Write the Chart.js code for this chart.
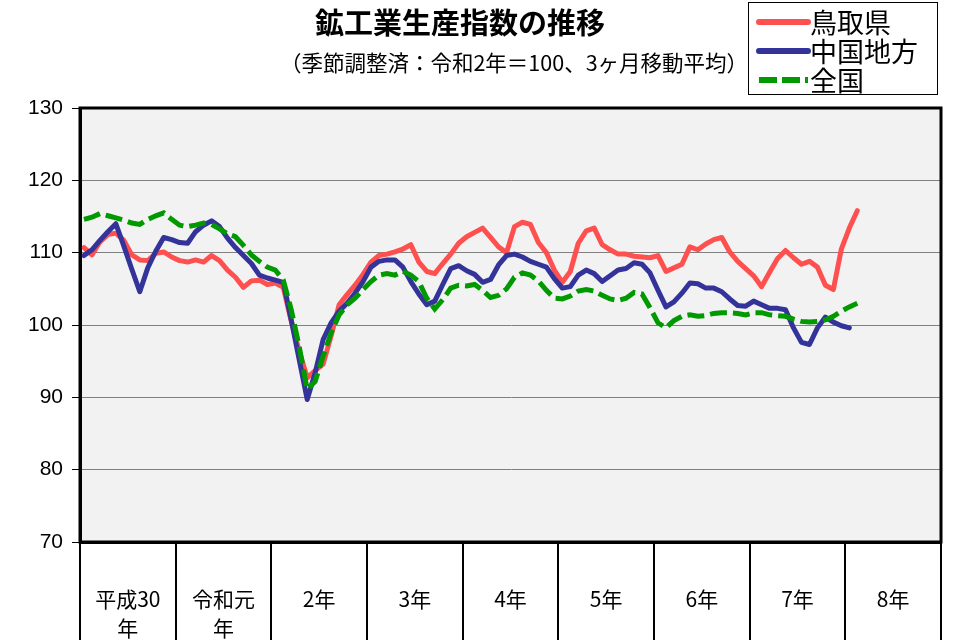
<!DOCTYPE html>
<html>
<head>
<meta charset="utf-8">
<script src="https://cdn.jsdelivr.net/npm/chart.js@4.4.0/dist/chart.umd.min.js"></script>
<style>
  html, body { margin: 0; padding: 0; background: #fff; }
</style>
</head>
<body>
<canvas id="chart" width="979" height="640"></canvas>
<script>
const FONT = '"Noto Sans CJK JP", sans-serif';

const chartTitle = '鉱工業生産指数の推移';
const chartSubtitle = '（季節調整済：令和2年＝100、3ヶ月移動平均）';
const seriesNames = ['鳥取県', '中国地方', '全国'];
const yearLabels = [['平成30', '年'], ['令和元', '年'], '2年', '3年', '4年', '5年', '6年', '7年', '8年'];
const yMin = 70, yMax = 130, yStep = 10;

// 3ヶ月移動平均 (平成30年1月～)
const tottori = [
  110.7, 109.7, 111.5, 112.5, 112.7, 111.7, 109.7, 109.0, 108.9, 109.9, 110.1, 109.4,
  108.9, 108.7, 109.0, 108.7, 109.6, 108.9, 107.6, 106.6, 105.2, 106.1, 106.2, 105.6,
  105.8, 105.2, 100.5, 96.4, 92.7, 93.7, 94.6, 98.5, 102.8, 104.2, 105.5, 107.0,
  108.7, 109.6, 109.8, 110.1, 110.5, 111.1, 108.7, 107.4, 107.1, 108.5, 109.8, 111.3,
  112.2, 112.8, 113.4, 112.1, 110.8, 110.0, 113.6, 114.2, 113.9, 111.4, 110.0, 107.6,
  105.9, 107.4, 111.3, 113.0, 113.4, 111.1, 110.4, 109.8, 109.8, 109.5, 109.4, 109.3,
  109.6, 107.4, 107.9, 108.4, 110.8, 110.4, 111.2, 111.8, 112.1, 110.1, 108.8, 107.8,
  106.8, 105.3, 107.3, 109.2, 110.3, 109.3, 108.4, 108.8, 108.0, 105.5, 104.9, 110.5,
  113.4, 115.8
];
const chugoku = [
  109.6, 110.4, 111.7, 112.9, 114.0, 110.9, 107.7, 104.6, 107.9, 110.2, 112.1, 111.8,
  111.4, 111.3, 112.9, 113.8, 114.4, 113.6, 112.0, 110.7, 109.6, 108.5, 106.9, 106.5,
  106.2, 105.9, 100.7, 95.2, 89.7, 93.4, 98.0, 100.3, 101.9, 103.0, 104.4, 106.0,
  108.0, 108.8, 109.0, 109.0, 108.0, 106.0, 104.3, 102.8, 103.3, 105.6, 107.8, 108.2,
  107.5, 107.0, 105.9, 106.3, 108.3, 109.6, 109.8, 109.4, 108.8, 108.4, 108.0, 106.4,
  105.1, 105.3, 106.9, 107.6, 107.1, 106.0, 106.8, 107.6, 107.8, 108.6, 108.4, 107.2,
  104.8, 102.5, 103.2, 104.4, 105.8, 105.7, 105.1, 105.1, 104.6, 103.6, 102.7, 102.6,
  103.3, 102.8, 102.3, 102.3, 102.1, 99.6, 97.6, 97.3, 99.6, 101.1, 100.4, 99.9,
  99.6
];
const zenkoku = [
  114.6, 114.9, 115.4, 115.1, 114.8, 114.5, 114.1, 113.9, 114.6, 115.1, 115.5, 114.6,
  113.8, 113.6, 113.8, 114.1, 113.9, 113.3, 112.6, 112.2, 111.0, 109.7, 108.8, 108.0,
  107.6, 106.2, 102.1, 97.0, 91.1, 92.2, 95.7, 98.9, 101.4, 102.8, 103.7, 104.9,
  106.0, 106.9, 107.1, 106.9, 107.4, 106.9, 106.0, 103.7, 102.2, 103.5, 105.1, 105.5,
  105.4, 105.6, 104.8, 103.8, 104.1, 105.0, 106.6, 107.2, 106.9, 106.1, 104.8, 103.7,
  103.6, 104.0, 104.7, 104.9, 104.7, 104.1, 103.6, 103.4, 103.7, 104.5, 104.3, 102.4,
  100.3, 99.6, 100.6, 101.2, 101.4, 101.2, 101.3, 101.6, 101.7, 101.7, 101.6, 101.4,
  101.7, 101.7, 101.4, 101.3, 101.2, 100.8, 100.5, 100.4, 100.5, 100.7, 101.2, 101.9,
  102.5, 103.0
];

const lineColors = ['#ff5050', '#333399', '#009900'];
const greenDash = [17, 6];

// one category per month, 12 per year
const months = [];
yearLabels.forEach((y, yi) => {
  for (let m = 1; m <= 12; m++) months.push(yi + '-' + m);
});

// plot background, frame, title and legend box
const decorations = {
  id: 'decorations',
  beforeDraw(chart) {
    const { ctx, chartArea: a } = chart;
    ctx.save();
    ctx.fillStyle = '#f2f2f2';
    ctx.fillRect(a.left, a.top, a.right - a.left, a.bottom - a.top);
    ctx.restore();
  },
  afterDraw(chart) {
    const { ctx, chartArea: a } = chart;
    ctx.save();
    ctx.strokeStyle = '#000';
    ctx.lineWidth = 3;
    ctx.strokeRect(a.left, a.top, a.right - a.left, a.bottom - a.top);

    ctx.fillStyle = '#000';
    ctx.textAlign = 'center';
    ctx.textBaseline = 'middle';
    ctx.font = 'bold 29px ' + FONT;
    ctx.fillText(chartTitle, 460, 23);
    ctx.font = '21.5px ' + FONT;
    ctx.fillText(chartSubtitle, 514, 63);

    // legend
    ctx.lineWidth = 1;
    ctx.strokeRect(748.5, 2.5, 189, 92);
    ctx.textAlign = 'left';
    ctx.font = '27px ' + FONT;
    seriesNames.forEach((name, i) => {
      const y = 22 + i * 29;
      ctx.beginPath();
      ctx.strokeStyle = lineColors[i];
      ctx.lineWidth = 6;
      ctx.lineCap = i === 2 ? 'butt' : 'round';
      ctx.setLineDash(i === 2 ? [18, 5] : []);
      ctx.moveTo(759, y);
      ctx.lineTo(808, y);
      ctx.stroke();
      ctx.setLineDash([]);
      ctx.fillStyle = '#000';
      ctx.fillText(name, 810, y + 1);
    });
    ctx.restore();
  }
};

new Chart(document.getElementById('chart'), {
  type: 'line',
  data: {
    labels: months,
    datasets: [
      { label: seriesNames[0], data: tottori, borderColor: lineColors[0], borderWidth: 5,
        borderCapStyle: 'round', borderJoinStyle: 'round', pointRadius: 0, order: 3 },
      { label: seriesNames[1], data: chugoku, borderColor: lineColors[1], borderWidth: 5,
        borderCapStyle: 'round', borderJoinStyle: 'round', pointRadius: 0, order: 2 },
      { label: seriesNames[2], data: zenkoku, borderColor: lineColors[2], borderWidth: 5,
        borderDash: greenDash, pointRadius: 0, order: 1 }
    ]
  },
  options: {
    responsive: false,
    animation: false,
    devicePixelRatio: 1,
    layout: { padding: { top: 108, right: 38, left: 0, bottom: 0 } },
    plugins: { legend: { display: false }, tooltip: { enabled: false } },
    scales: {
      x: { display: false, offset: true },
      xYear: {
        type: 'category',
        labels: yearLabels,
        position: 'bottom',
        offset: true,
        grid: { offset: true, drawOnChartArea: false, tickLength: 98, color: '#000', lineWidth: 2 },
        border: { display: true, color: '#000', width: 3 },
        ticks: { color: '#000', font: { family: FONT, size: 21, lineHeight: 1.4 },
                 padding: -56, maxRotation: 0, autoSkip: false },
        afterFit(scale) { scale.height = 98; }
      },
      y: {
        min: yMin, max: yMax,
        grid: { color: '#808080', lineWidth: 1, tickColor: '#000', tickLength: 8 },
        border: { display: true, color: '#000', width: 3 },
        ticks: { stepSize: yStep, color: '#000', padding: 9,
                 font: { family: '"Liberation Sans", Arial, sans-serif', size: 21 } },
        afterFit(scale) { scale.width = 80; }
      }
    }
  },
  plugins: [decorations]
});
</script>
</body>
</html>
